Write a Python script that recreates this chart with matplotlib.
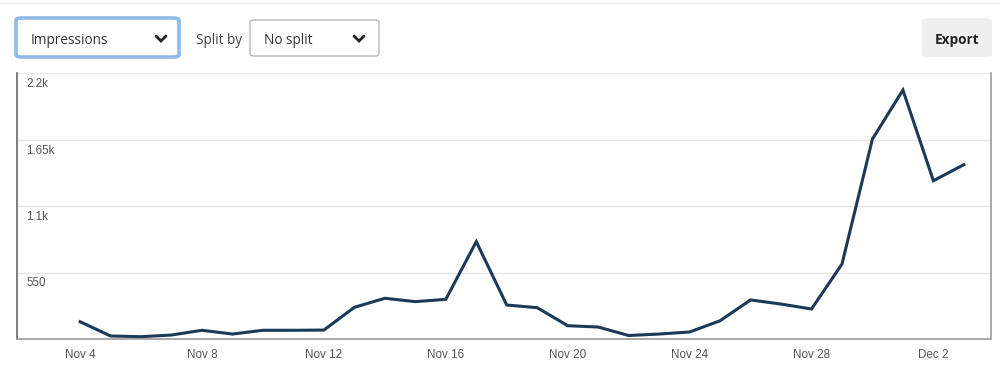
import numpy as np
import pandas as pd
import matplotlib
matplotlib.use("Agg")
import matplotlib.pyplot as plt
from matplotlib.patches import FancyBboxPatch
from matplotlib.lines import Line2D
import matplotlib.transforms as mtransforms

# daily impressions, Nov 4 .. Dec 3
dates = pd.date_range("2023-11-04", "2023-12-03", freq="D")
impressions = [143, 25, 19, 33, 72, 41, 72, 72, 74, 262,
               337, 309, 328, 805, 281, 259, 110, 99, 29, 41,
               58, 151, 323, 289, 248, 620, 1654, 2059, 1309, 1442]

y_ticks = [550, 1100, 1650, 2200]
y_tick_labels = ["550", "1.1k", "1.65k", "2.2k"]
x_tick_idx = [0, 4, 8, 12, 16, 20, 24, 28]

W, H = 1000, 374
fig = plt.figure(figsize=(W / 100, H / 100), dpi=100)
fig.patch.set_facecolor("white")

def fx(px):
    return px / W

def fy(py):
    return 1 - py / H

ui_font = ["Open Sans", "DejaVu Sans"]

# faint line across the very top
fig.add_artist(Line2D([0, 1], [fy(3), fy(3)], color="#ececec", lw=1))

# metric dropdown (focused, blue ring)
fig.add_artist(FancyBboxPatch((fx(16), fy(57)), fx(163), fy(18) - fy(57),
                              boxstyle="round,pad=0,rounding_size=0.006",
                              transform=fig.transFigure, facecolor="white",
                              edgecolor="#8fbbea", lw=2.6))
fig.text(fx(31), fy(40), "Impressions", fontsize=9.8, color="#333333",
         family=ui_font, va="center")

# split dropdown
fig.add_artist(FancyBboxPatch((fx(250), fy(56)), fx(129), fy(20) - fy(56),
                              boxstyle="round,pad=0,rounding_size=0.005",
                              transform=fig.transFigure, facecolor="white",
                              edgecolor="#b8b8b8", lw=1))
fig.text(fx(196), fy(40), "Split by", fontsize=9.8, color="#444444",
         family=ui_font, va="center")
fig.text(fx(264), fy(40), "No split", fontsize=9.8, color="#333333",
         family=ui_font, va="center")

# chevrons
for cx in (161, 359):
    fig.add_artist(Line2D([fx(cx - 5), fx(cx), fx(cx + 5)],
                          [fy(36), fy(41), fy(36)],
                          color="#222222", lw=2, solid_capstyle="round",
                          solid_joinstyle="miter"))

# export button
fig.add_artist(FancyBboxPatch((fx(922), fy(57)), fx(70), fy(18) - fy(57),
                              boxstyle="round,pad=0,rounding_size=0.008",
                              transform=fig.transFigure, facecolor="#efefef",
                              edgecolor="none"))
fig.text(fx(957), fy(40), "Export", fontsize=9.8, color="#222222",
         family=ui_font, weight="bold", ha="center", va="center")

# chart
ax = fig.add_axes([fx(17), fy(339), fx(991) - fx(17), fy(73) - fy(339)])
x = np.arange(len(dates))
ax.plot(x, impressions, color="#1b3a57", lw=2.2, solid_joinstyle="miter")

ax.set_xlim(-2.07, 29.89)
ax.set_ylim(0, 2200)

ax.set_yticks(y_ticks)
ax.set_yticklabels([])
ax.tick_params(axis="y", length=0)
ax.grid(axis="y", color="#e6e6e6", lw=1)
ax.set_axisbelow(True)

trans = mtransforms.blended_transform_factory(ax.transAxes, ax.transData)
trans = trans + mtransforms.ScaledTranslation(0, -5 / 100, fig.dpi_scale_trans)
for v, lab in zip(y_ticks, y_tick_labels):
    ax.text(0.0095, v, lab, transform=trans, fontsize=8.4, color="#555555",
            family="Liberation Sans", va="top", ha="left")

ax.set_xticks(x_tick_idx)
ax.set_xticklabels([f"{dates[i]:%b} {dates[i].day}" for i in x_tick_idx],
                   fontsize=8.4, color="#555555", family="Liberation Sans")
ax.tick_params(axis="x", length=0, pad=7)

ax.spines["top"].set_visible(False)
ax.spines["left"].set_color("#666666")
ax.spines["bottom"].set_color("#999999")
ax.spines["right"].set_color("#999999")
for s in ("left", "bottom", "right"):
    ax.spines[s].set_linewidth(1.2)

fig.savefig("out.png", dpi=100, facecolor="white")
